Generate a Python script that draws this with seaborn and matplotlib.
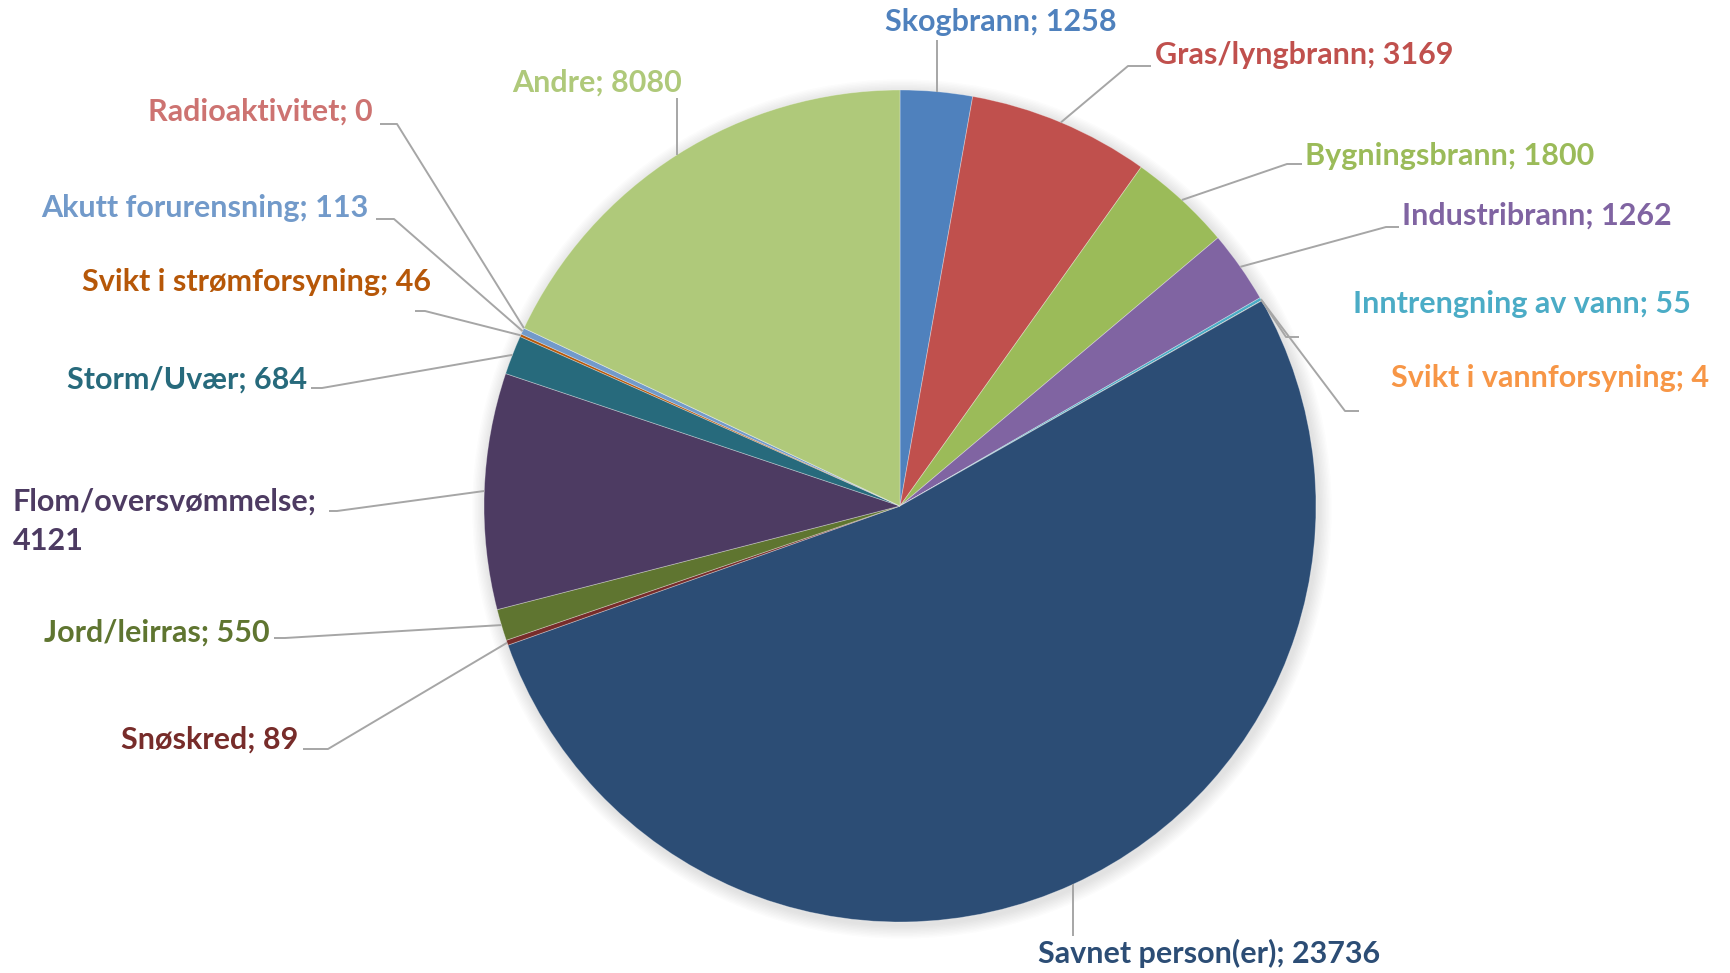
import matplotlib
matplotlib.use("Agg")
import matplotlib.pyplot as plt
from matplotlib.patches import Circle
import seaborn as sns
import numpy as np

# ---------------- data ----------------
categories = [
    "Skogbrann", "Gras/lyngbrann", "Bygningsbrann", "Industribrann",
    "Inntrengning av vann", "Svikt i vannforsyning", "Savnet person(er)",
    "Snøskred", "Jord/leirras", "Flom/oversvømmelse", "Storm/Uvær",
    "Svikt i strømforsyning", "Akutt forurensning", "Radioaktivitet", "Andre",
]
values = [1258, 3169, 1800, 1262, 55, 4, 23736, 89, 550, 4121, 684, 46, 113, 0, 8080]

slice_colors = [
    "#4F81BD", "#C0504D", "#9BBB59", "#8064A2", "#4BACC6", "#F79646",
    "#2C4D75", "#772C2A", "#5F7530", "#4D3B62", "#276A7C", "#B65708",
    "#729ACA", "#CD7371", "#AFC97A",
]
label_colors = [
    "#4F81BD", "#C0504D", "#9BBB59", "#8064A2", "#4BACC6", "#F79646",
    "#2C4D75", "#772C2A", "#5F7530", "#4D3B62", "#276A7C", "#B65708",
    "#729ACA", "#CD7371", "#AFC97A",
]

# ---------------- layout (pixel coords, y from top) ----------------
W, H = 1731, 973
CX, CY, R = 900, 506, 416

# text position, alignment, leader elbow points (after anchor)
layout = [
    dict(xy=(1001, 22), ha="center", pts=[(None, 40)]),
    dict(xy=(1155, 55), ha="left", pts=[(1128, 66), (1151, 66)]),
    dict(xy=(1305, 156), ha="left", pts=[(1287, 164), (1302, 164)]),
    dict(xy=(1402, 216), ha="left", pts=[(1386, 227), (1399, 227)]),
    dict(xy=(1353, 304), ha="left", pts=[(1286, 337), (1299, 337)]),
    dict(xy=(1391, 378), ha="left", pts=[(1345, 411), (1359, 411)]),
    dict(xy=(1038, 953), ha="left", pts=[(None, 936)]),
    dict(xy=(298, 740), ha="right", pts=[(328, 749), (303, 749)]),
    dict(xy=(270, 633), ha="right", pts=[(285, 638), (274, 638)]),
    dict(xy=(13, 521), ha="left", pts=[(337, 511), (329, 511)]),
    dict(xy=(307, 380), ha="right", pts=[(322, 388), (311, 388)]),
    dict(xy=(431, 282), ha="right", pts=[(425, 311), (415, 311)]),
    dict(xy=(368, 208), ha="right", pts=[(394, 219), (376, 219)]),
    dict(xy=(373, 112), ha="right", pts=[(397, 124), (380, 124)]),
    dict(xy=(597, 83), ha="center", pts=[(None, 98)]),
]

sns.set_theme(style="white")
plt.rcParams["font.family"] = ["Lato", "DejaVu Sans"]

fig = plt.figure(figsize=(W / 100, H / 100), dpi=100)
fig.patch.set_facecolor("white")
ax = fig.add_axes([0, 0, 1, 1])
ax.set_xlim(0, W)
ax.set_ylim(0, H)
ax.set_aspect("equal")
ax.axis("off")

def Y(y):
    return H - y

# soft shadow
for i in range(10):
    ax.add_patch(Circle((CX + 2, Y(CY) - 3), R + 1 + i * 1.4, color="#7F7F7F",
                        alpha=0.018, lw=0, zorder=0))

wedges, _ = ax.pie(values, colors=slice_colors, startangle=90, counterclock=False,
                   radius=R, center=(CX, Y(CY)), frame=True,
                   wedgeprops=dict(linewidth=0.6, edgecolor=(1, 1, 1, 0.35)))
ax.set_xlim(0, W)
ax.set_ylim(0, H)
ax.axis("off")

for w, cat, val, col, lay in zip(wedges, categories, values, label_colors, layout):
    mid = np.deg2rad((w.theta1 + w.theta2) / 2)
    ax_ = w.center[0] + w.r * np.cos(mid)
    ay_ = w.center[1] + w.r * np.sin(mid)
    xs, ys = [ax_], [ay_]
    for px, py in lay["pts"]:
        xs.append(ax_ if px is None else px)
        ys.append(Y(py))
    ax.plot(xs, ys, color="#A6A6A6", lw=1.4, zorder=3, solid_capstyle="butt")
    if cat == "Flom/oversvømmelse":
        txt = f"{cat};\n{val}"
    else:
        txt = f"{cat}; {val}"
    ax.text(lay["xy"][0], Y(lay["xy"][1]), txt, color=col, ha=lay["ha"], va="center",
            fontsize=22, fontweight="bold", linespacing=1.5, zorder=4)

fig.savefig("out.png", dpi=100, facecolor="white")
